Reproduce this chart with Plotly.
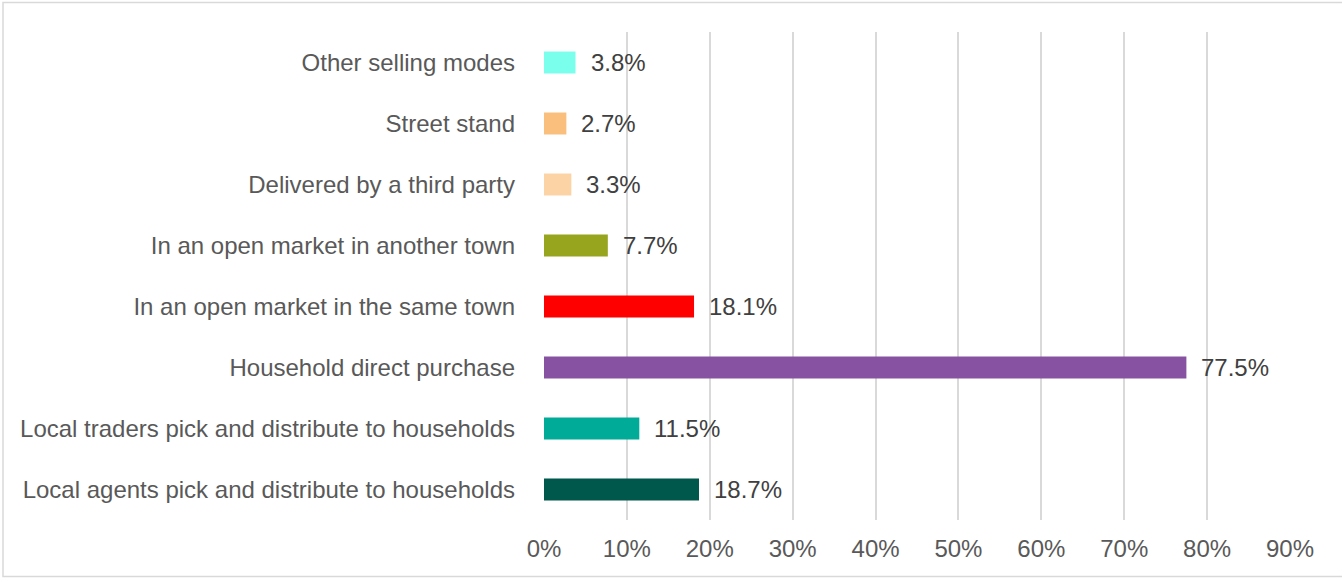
import plotly.graph_objects as go

# Selling modes, listed bottom to top as they appear on the y axis
categories = [
    "Local agents pick and distribute to households",
    "Local traders pick and distribute to households",
    "Household direct purchase",
    "In an open market in the same town",
    "In an open market in another town",
    "Delivered by a third party",
    "Street stand",
    "Other selling modes",
]
shares = [18.7, 11.5, 77.5, 18.1, 7.7, 3.3, 2.7, 3.8]
bar_colors = [
    "#00574B", "#00AC98", "#8752A1", "#FF0000",
    "#97A41E", "#FCD3A5", "#FABF7C", "#79FFEC",
]
tick_values = [0, 10, 20, 30, 40, 50, 60, 70, 80, 90]

W, H = 1342, 578
ML, MR, MT, MB = 544, 52, 32, 58
FONT = "Liberation Sans, Arial, sans-serif"
FS = 24

fig = go.Figure(
    go.Bar(
        x=shares,
        y=categories,
        orientation="h",
        marker=dict(color=bar_colors, line=dict(width=0)),
        width=0.36,
        hoverinfo="skip",
    )
)

# value labels just to the right of each bar
for cat, val in zip(categories, shares):
    fig.add_annotation(
        x=val, y=cat, text=f"{val:.1f}%", showarrow=False,
        xanchor="left", yanchor="middle", xshift=13,
        font=dict(family=FONT, size=FS, color="#404040"),
    )

# light frame around the whole chart
pw = W - ML - MR
ph = H - MT - MB
fig.add_shape(
    type="rect", xref="paper", yref="paper",
    x0=(3 - ML) / pw, x1=(W + 5 - ML) / pw,
    y0=-(MB - 1.5) / ph, y1=1 + (MT - 2.5) / ph,
    line=dict(color="#D9D9D9", width=1.5), fillcolor="rgba(0,0,0,0)",
    layer="below",
)

fig.update_layout(
    width=W, height=H,
    margin=dict(l=ML, r=MR, t=MT, b=MB),
    paper_bgcolor="white", plot_bgcolor="white",
    showlegend=False,
    bargap=0.64,
    font=dict(family=FONT, size=FS, color="#595959"),
)
fig.update_xaxes(
    range=[0, 90],
    tickvals=tick_values,
    ticktext=[f"{v}%" for v in tick_values],
    showgrid=True, gridcolor="#D9D9D9", gridwidth=1.5,
    zeroline=False, showline=False,
    ticks="", ticklabelstandoff=12,
    tickfont=dict(family=FONT, size=FS, color="#595959"),
    fixedrange=True,
)
fig.update_yaxes(
    categoryorder="array", categoryarray=categories,
    showgrid=False, zeroline=False, showline=False,
    ticks="", ticklabelstandoff=28,
    tickfont=dict(family=FONT, size=FS, color="#595959"),
    fixedrange=True,
)

fig.write_html("out.html", config={"displayModeBar": False})
